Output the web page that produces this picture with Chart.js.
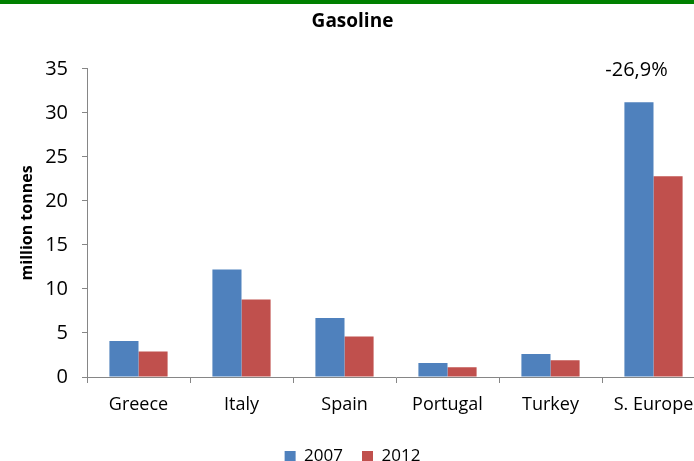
<!DOCTYPE html>
<html>
<head>
<meta charset="utf-8">
<script src="https://cdn.jsdelivr.net/npm/chart.js@4"></script>
<style>
    html, body { margin: 0; padding: 0; background: #fff; overflow: hidden; }
    #wrap { position: relative; width: 694px; height: 461px; overflow: hidden; }
    #topLine { position: absolute; left: 0; top: 0; width: 694px; height: 4px; background: #008000; }
    canvas { position: absolute; left: 0; top: 0; }
</style>
</head>
<body>
<div id="wrap">
    <canvas id="chart" width="712" height="475"></canvas>
    <div id="topLine"></div>
</div>
<script>
// Gasoline consumption, million tonnes
const countries = ['Greece', 'Italy', 'Spain', 'Portugal', 'Turkey', 'S. Europe'];
const values2007 = [4.1, 12.2, 6.7, 1.6, 2.6, 31.2];
const values2012 = [2.9, 8.8, 4.6, 1.1, 1.9, 22.8];
const yTicks = [0, 5, 10, 15, 20, 25, 30, 35];
const changeLabel = '-26,9%';

const FONT = "'Open Sans', sans-serif";
const AXIS_GREY = '#868686';

// Draws the change label above the S. Europe group
const changeLabelPlugin = {
    id: 'changeLabel',
    afterDatasetsDraw(chart) {
        const { ctx, scales } = chart;
        const x = scales.x.getPixelForValue(countries.length - 1) - 17;
        const y = scales.y.getPixelForValue(yTicks[yTicks.length - 1]) + 1;
        ctx.save();
        ctx.font = '20px ' + FONT;
        ctx.fillStyle = '#000';
        ctx.textAlign = 'center';
        ctx.textBaseline = 'middle';
        ctx.fillText(changeLabel, x, y);
        ctx.restore();
    }
};

new Chart(document.getElementById('chart'), {
    type: 'bar',
    data: {
        labels: countries,
        datasets: [{
            label: '2007',
            data: values2007,
            backgroundColor: '#4F81BD',
            borderWidth: 0
        }, {
            label: '2012',
            data: values2012,
            backgroundColor: '#C0504D',
            borderWidth: 0
        }]
    },
    options: {
        responsive: false,
        animation: false,
        devicePixelRatio: 1,
        categoryPercentage: 0.565,
        barPercentage: 1,
        layout: {
            padding: { left: 0, right: 7, top: 0, bottom: 0 }
        },
        plugins: {
            title: {
                display: true,
                text: 'Gasoline',
                color: '#000',
                font: { family: FONT, size: 19, weight: 'bold' },
                padding: { top: 10, bottom: 36 }
            },
            legend: {
                position: 'bottom',
                labels: {
                    color: '#000',
                    font: { family: FONT, size: 17 },
                    boxWidth: 11,
                    boxHeight: 11,
                    padding: 19
                }
            },
            tooltip: { enabled: false }
        },
        scales: {
            x: {
                afterFit(scale) { scale.height = 52; },
                border: { color: AXIS_GREY, width: 1 },
                grid: {
                    drawOnChartArea: false,
                    drawTicks: true,
                    tickLength: 6,
                    color: AXIS_GREY
                },
                ticks: {
                    color: '#000',
                    font: { family: FONT, size: 18 },
                    padding: 11,
                    maxRotation: 0,
                    autoSkip: false
                }
            },
            y: {
                min: yTicks[0],
                max: yTicks[yTicks.length - 1],
                afterFit(scale) { scale.width = 87; },
                afterBuildTicks(scale) {
                    scale.ticks = yTicks.map(v => ({ value: v }));
                },
                border: { color: AXIS_GREY, width: 1 },
                grid: {
                    drawOnChartArea: false,
                    drawTicks: true,
                    tickLength: 5,
                    color: AXIS_GREY
                },
                ticks: {
                    color: '#000',
                    font: { family: FONT, size: 20 },
                    padding: 14
                },
                title: {
                    display: true,
                    text: 'million tonnes',
                    color: '#000',
                    font: { family: FONT, size: 16, weight: 'bold' },
                    padding: { top: 18, bottom: 0 }
                }
            }
        }
    },
    plugins: [changeLabelPlugin]
});
</script>
</body>
</html>
